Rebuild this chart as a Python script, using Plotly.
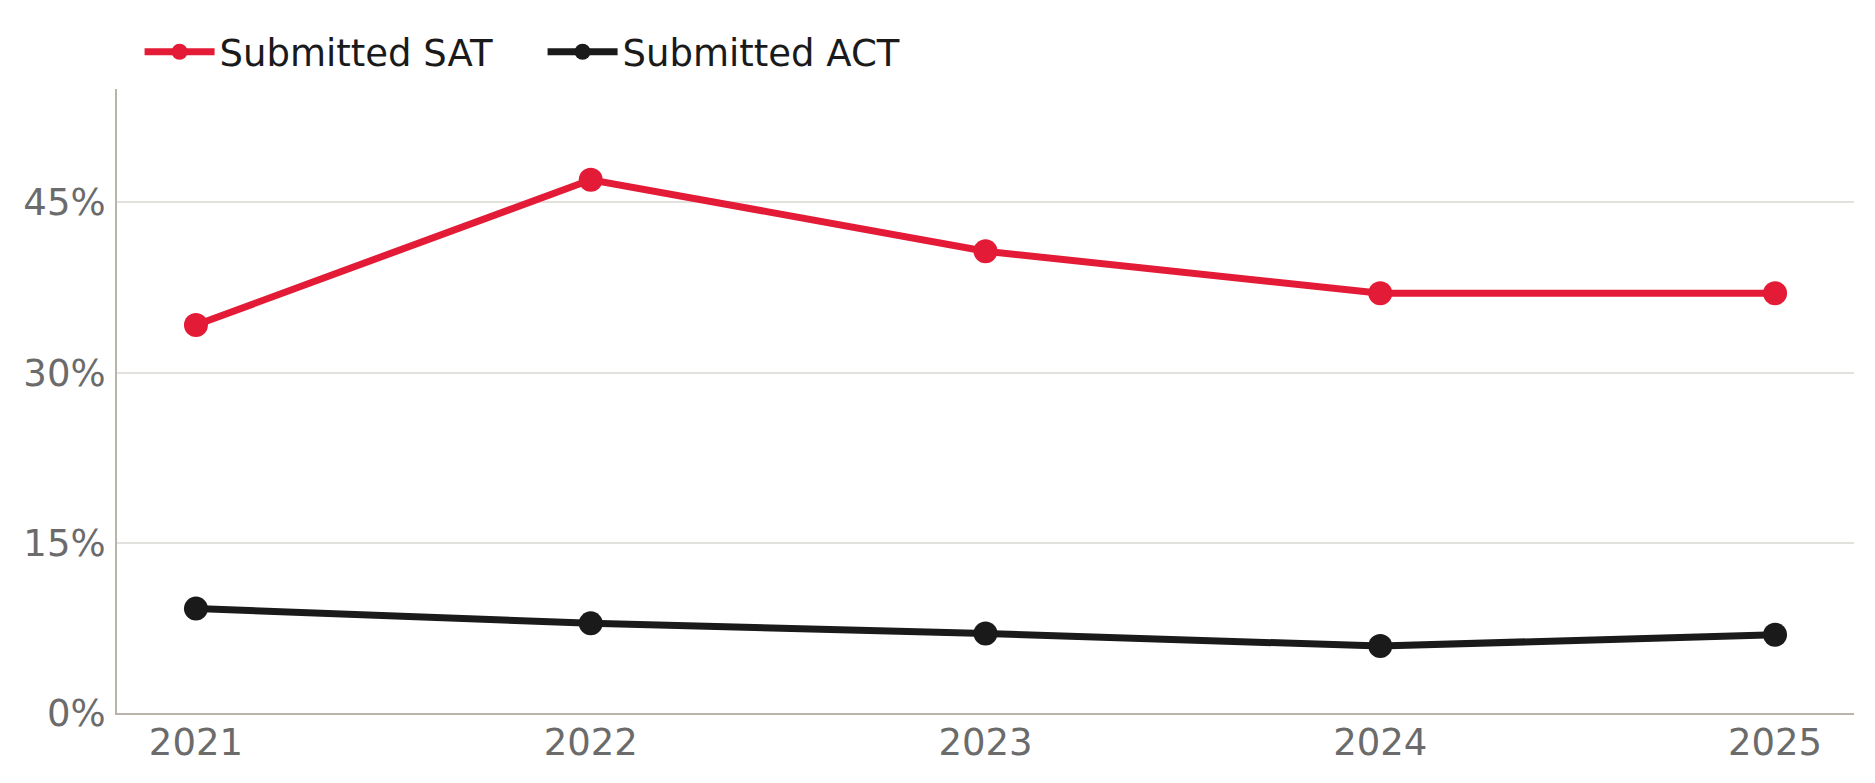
import plotly.graph_objects as go

# data
years = [2021, 2022, 2023, 2024, 2025]
sat_pct = [34.2, 47.0, 40.7, 37.0, 37.0]
act_pct = [9.2, 7.9, 7.0, 5.9, 6.9]
y_ticks = [0, 15, 30, 45]
y_tick_text = ["0%", "15%", "30%", "45%"]

RED = "#e31b36"
BLACK = "#1a1a1a"
AXIS_COLOR = "#b9b4aa"
GRID_COLOR = "#e3e1dd"
TICK_COLOR = "#6b6b6b"

fig = go.Figure()

fig.add_trace(go.Scatter(
    x = years,
    y = sat_pct,
    name = "Submitted SAT",
    mode = "lines+markers",
    line = dict(color=RED, width=7),
    marker = dict(color=RED, size=24),
))

fig.add_trace(go.Scatter(
    x = years,
    y = act_pct,
    name = "Submitted ACT",
    mode = "lines+markers",
    line = dict(color=BLACK, width=7),
    marker = dict(color=BLACK, size=24),
))

# page body has an 8px margin, so the figure is a bit smaller than the window
fig.update_layout(
    width = 1867,
    height = 775,
    margin = dict(l=109, r=21, t=81, b=70),
    paper_bgcolor = "white",
    plot_bgcolor = "white",
    font = dict(family="DejaVu Sans", size=37, color=TICK_COLOR),
    showlegend = True,
    legend = dict(
        orientation = "h",
        x = 0.013,
        xanchor = "left",
        y = 1.059,
        yanchor = "middle",
        font = dict(size=37, color=BLACK),
        itemwidth = 70,
        entrywidth = 318,
        bgcolor = "rgba(0,0,0,0)",
    ),
    xaxis = dict(
        range = [2020.8, 2025.2],
        tickmode = "array",
        tickvals = years,
        ticktext = [str(y) for y in years],
        showgrid = False,
        zeroline = False,
        showline = True,
        linecolor = AXIS_COLOR,
        linewidth = 2,
        ticks = "",
        ticklabelstandoff = -4,
    ),
    yaxis = dict(
        range = [0, 55],
        tickmode = "array",
        tickvals = y_ticks,
        ticktext = y_tick_text,
        showgrid = True,
        gridcolor = GRID_COLOR,
        gridwidth = 2,
        zeroline = False,
        showline = True,
        linecolor = AXIS_COLOR,
        linewidth = 2,
        ticks = "",
        ticklabelstandoff = 2,
    ),
)

fig.write_html("out.html")
